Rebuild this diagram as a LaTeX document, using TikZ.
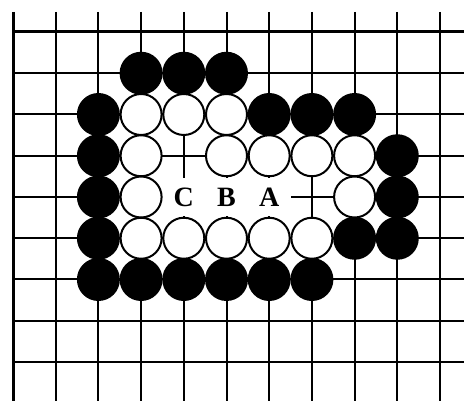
\documentclass[tikz,border=0pt]{standalone}
\usepackage{fontspec}
\setmainfont{Liberation Serif}
\begin{document}
\begin{tikzpicture}[x=1pt,y=-1pt,
  gridline/.style={line width=2pt},
  edgeline/.style={line width=3pt},
  bstone/.style={circle,fill=black,minimum size=43pt,inner sep=0pt},
  wstone/.style={circle,draw=black,fill=white,line width=2pt,minimum size=41pt,inner sep=0pt},
  lbl/.style={fill=white,minimum width=44pt,minimum height=38pt,inner sep=0pt,font=\fontsize{28}{28}\selectfont\bfseries}]
\useasboundingbox (0,0) rectangle (464,401);
\fill[white] (0,0) rectangle (464,401);
% grid
\foreach \i in {1,...,10} \draw[gridline] ({13+42.7*\i},12) -- ({13+42.7*\i},401);
\foreach \j in {1,...,8} \draw[gridline] (13,{32+41.25*\j}) -- (464,{32+41.25*\j});
\draw[edgeline] (13,12) -- (13,401);
\draw[edgeline] (13,32) -- (464,32);
% labels
\foreach \c/\r/\t in {4/4/C,5/4/B,6/4/A}
  \node[lbl] (l\t) at ({13+42.7*\c},{32+41.25*\r}) {\t};
% black stones
\foreach \c/\r in {3/1,4/1,5/1,
  2/2,6/2,7/2,8/2,
  2/3,9/3,
  2/4,9/4,
  2/5,8/5,9/5,
  2/6,3/6,4/6,5/6,6/6,7/6}
  \node[bstone] (b\c-\r) at ({13+42.7*\c},{32+41.25*\r}) {};
% white stones
\foreach \c/\r in {3/2,4/2,5/2,
  3/3,5/3,6/3,7/3,8/3,
  3/4,8/4,
  3/5,4/5,5/5,6/5,7/5}
  \node[wstone] (w\c-\r) at ({13+42.7*\c},{32+41.25*\r}) {};
\end{tikzpicture}
\end{document}
